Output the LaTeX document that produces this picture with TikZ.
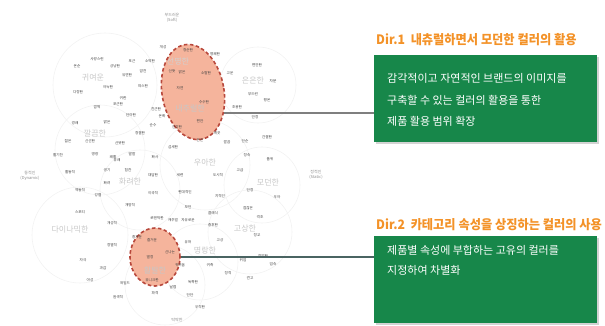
\documentclass[tikz,border=0pt]{standalone}
\usepackage{fontspec}
\newfontfamily\kr{Noto Sans CJK KR}
\usetikzlibrary{shapes.geometric,shadows}
\definecolor{hdr}{HTML}{F39228}
\definecolor{grn}{HTML}{17874A}
\definecolor{salmon}{HTML}{F5B49C}
\definecolor{dred}{HTML}{B8483C}
\definecolor{lineone}{HTML}{7F7F7F}
\definecolor{linetwo}{HTML}{4A6462}
\begin{document}
\begin{tikzpicture}[x=1pt,y=-1pt,
 word/.style={font=\kr\fontsize{3.6}{4}\selectfont, text=black!75, inner sep=0pt},
 cat/.style={font=\kr\fontsize{8}{9}\selectfont, text=black!22, inner sep=0pt},
 axislbl/.style={font=\kr\fontsize{4}{5}\selectfont, text=black!45, inner sep=0pt, align=center},
 ring/.style={circle, draw=black!5, line width=0.6pt, inner sep=0pt},
 hilite/.style={ellipse, fill=salmon, draw=dred, line width=1.6pt, dash pattern=on 3.5pt off 2.5pt, inner sep=0pt},
 greenbox/.style={fill=grn, inner sep=0pt, anchor=north west, drop shadow={opacity=0.35, shadow xshift=1.5pt, shadow yshift=-2pt}},
 boxtxt/.style={font=\kr\fontsize{11}{12}\selectfont, text=white, anchor=base west, inner sep=0pt},
 head/.style={font=\kr\bfseries\fontsize{13}{14}\selectfont, text=hdr, anchor=west, inner sep=0pt}
]
\useasboundingbox (0,0) rectangle (605,325);
% faint cluster rings
\node[ring, minimum size=104pt] (r1) at (105,85) {};
\node[ring, minimum size=76pt] (r2) at (258,85) {};
\node[ring, minimum size=90pt] (r3) at (100,150) {};
\node[ring, minimum size=90pt] (r4) at (205,165) {};
\node[ring, minimum size=80pt] (r5) at (140,190) {};
\node[ring, minimum size=76pt] (r6) at (262,185) {};
\node[ring, minimum size=96pt] (r7) at (80,235) {};
\node[ring, minimum size=84pt] (r8) at (250,232) {};
\node[ring, minimum size=76pt] (r9) at (200,262) {};
\node[ring, minimum size=80pt] (r10) at (165,285) {};
% highlighted areas
\node[hilite, minimum width=62pt, minimum height=96pt, rotate=10] (ell1) at (193,92) {};
\node[hilite, minimum width=50pt, minimum height=58pt] (ell2) at (155,257) {};
% axis labels
\node[axislbl] (ax1) at (172,18) {부드러운\\(Soft)};
\node[axislbl] (ax2) at (30,176) {동적인\\(Dynamic)};
\node[axislbl] (ax3) at (316,175) {정적인\\(Static)};
\node[axislbl] (ax4) at (177,320) {딱딱한};
% small words
\foreach \x/\y/\w [count=\i] in {
163/47/개성, 188/50/청순한, 215/54/명쾌한, 97/59/사랑스런, 132/61/포근, 150/61/소박한,
77/66/온순, 115/66/상냥한, 257/65/편안한, 172/71/산뜻, 182/72/맑은, 206/73/소탈한,
230/73/고운, 143/71/얌전, 127/75/유연한, 273/81/차분, 108/87/아늑한, 143/86/따스한,
180/88/자연, 78/92/다정한, 253/94/부드런, 123/98/귀한, 204/102/수수한, 267/100/평온,
97/107/깜찍, 118/104/포근한, 156/109/친근한, 237/107/조용한, 131/115/단아한, 162/116/온화,
200/121/편안, 255/117/안정, 75/123/경쾌, 107/122/밝은, 153/125/순수, 177/127/건강한,
140/133/청결한, 217/133/깨끗, 68/141/젊은, 90/141/신선한, 120/143/산뜻한, 200/140/은근,
227/142/깔끔, 245/141/단순, 267/137/간결한, 173/147/섬세한, 58/155/활기찬, 95/154/명랑,
113/157/쾌활, 132/154/발랄, 155/157/화사, 247/155/정숙, 270/159/품위, 117/160/유쾌,
70/172/활동적, 107/170/생기, 128/170/힘찬, 153/175/대담한, 180/175/세련, 218/175/도시적,
240/170/고급, 80/190/역동적, 98/195/강렬, 107/183/화려, 153/193/이국적, 185/192/현대적인,
220/196/지적인, 250/190/단정, 277/197/우아, 130/205/개방적, 188/207/모던, 248/208/점잖은,
80/212/스포티, 157/218/로맨틱한, 173/220/캐주얼, 188/220/자유로운, 213/213/클래식, 260/217/격조,
112/223/개성적, 213/225/중후한, 257/235/정교, 137/237/흥겨운, 152/240/즐거운, 188/242/유머,
220/240/고상, 112/245/정열적, 170/252/신나는, 150/257/열정, 243/260/위엄, 263/256/장엄한,
83/260/자극, 103/268/과감, 180/265/귀여움, 210/265/귀족, 273/264/엄숙, 90/280/야성,
125/283/와일드, 152/280/유니크한, 193/282/독특한, 228/273/정적, 250/278/견고, 173/287/날렵,
155/293/파격, 190/295/단단, 118/297/원색적, 200/307/우직한}
  \node[word] (w\i) at (\x,\y) {\w};
% category labels
\node[cat] (c1) at (93,78) {귀여운};
\node[cat] (c2) at (253,80) {은은한};
\node[cat, text=black!18] (c3) at (178,61) {선명한};
\node[cat, text=black!22] (c4) at (190,109) {내추럴한};
\node[cat] (c5) at (95,133) {깔끔한};
\node[cat] (c6) at (205,162) {우아한};
\node[cat] (c7) at (130,182) {화려한};
\node[cat] (c8) at (268,182) {모던한};
\node[cat] (c9) at (70,230) {다이나믹한};
\node[cat] (c10) at (245,228) {고상한};
\node[cat] (c11) at (205,250) {명랑한};
\node[cat, text=black!22] (c12) at (155,270) {활발한};
% boxes
\node[greenbox, minimum width=223pt, minimum height=87pt] (box1) at (374,55) {};
\node[greenbox, minimum width=223pt, minimum height=87pt] (box2) at (374,236) {};
% connectors
\coordinate (s1) at (224,113);
\draw[lineone, line width=1.2pt] (s1) -- (s1 -| box1.west);
\draw[linetwo, line width=1.2pt] (ell2.east) -- (ell2.east -| box2.west);
% headings
\node[head] (h1) at (376,40) {\scalebox{0.94}[1]{Dir.1\ \ 내츄럴하면서 모던한 컬러의 활용}};
\node[head] (h2) at (376,225) {\scalebox{0.94}[1]{Dir.2\ \ 카테고리 속성을 상징하는 컬러의 사용}};
% box text
\node[boxtxt] (t11) at (387,82) {감각적이고 자연적인 브랜드의 이미지를};
\node[boxtxt] (t12) at (387,104) {구축할 수 있는 컬러의 활용을 통한};
\node[boxtxt] (t13) at (387,125) {제품 활용 범위 확장};
\node[boxtxt] (t21) at (387,254) {제품별 속성에 부합하는 고유의 컬러를};
\node[boxtxt] (t22) at (387,274) {지정하여 차별화};
\end{tikzpicture}
\end{document}
